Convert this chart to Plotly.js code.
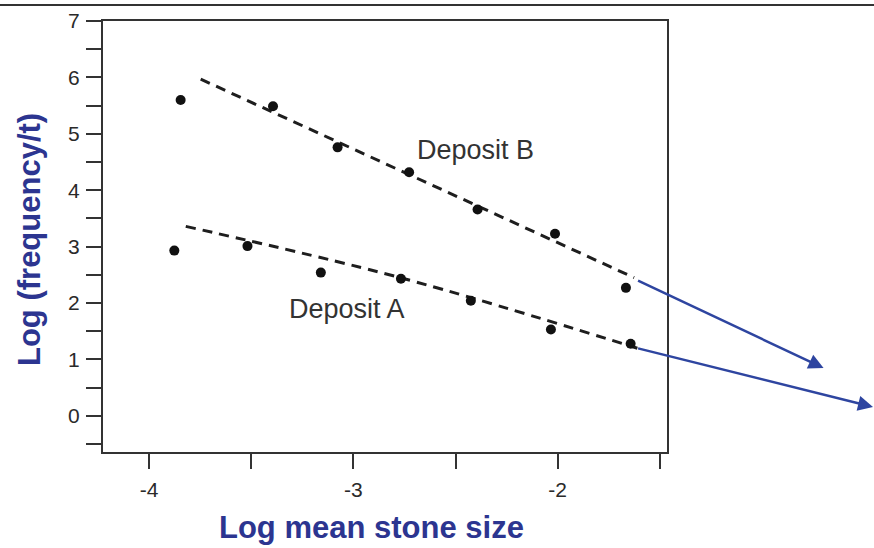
<!DOCTYPE html>
<html>
<head>
<meta charset="utf-8">
<script src="https://cdn.plot.ly/plotly-3.0.1.min.js"></script>
<style>html,body{margin:0;padding:0;background:#fff;}#chart{width:874px;height:548px;}</style>
</head>
<body>
<div id="chart"></div>
<script>
// Data
const depositB_x = [-3.845, -3.393, -3.077, -2.727, -2.392, -2.013, -1.666];
const depositB_y = [5.60, 5.49, 4.76, 4.32, 3.66, 3.23, 2.27];
const depositA_x = [-3.876, -3.518, -3.159, -2.767, -2.425, -2.033, -1.643];
const depositA_y = [2.93, 3.01, 2.54, 2.43, 2.04, 1.53, 1.28];
const fitB_x = [-3.747, -1.626];
const fitB_y = [5.97, 2.45];
const fitA_x = [-3.82, -2.77, -1.61];
const fitA_y = [3.36, 2.45, 1.20];
const xTickVals = [-4, -3.5, -3, -2.5, -2, -1.5];
const xTickText = ['-4', '', '-3', '', '-2', ''];
const yTickVals = [-0.5, 0, 0.5, 1, 1.5, 2, 2.5, 3, 3.5, 4, 4.5, 5, 5.5, 6, 6.5, 7];
const yTickText = ['', '0', '', '1', '', '2', '', '3', '', '4', '', '5', '', '6', '', '7'];
const labelB = {text: 'Deposit B', x: -2.403, y: 4.71};
const labelA = {text: 'Deposit A', x: -3.032, y: 1.90};
const xTitle = 'Log mean stone size';
const yTitle = 'Log (frequency/t)';

const navy = '#2c3590';
const ink = '#1e1e1e';
const fam = 'Liberation Sans, Arial, sans-serif';

const traces = [
  {x: fitB_x, y: fitB_y, mode: 'lines', line: {color: ink, width: 3, dash: '10px,7px'}, hoverinfo: 'skip'},
  {x: fitA_x, y: fitA_y, mode: 'lines', line: {color: ink, width: 3, dash: '10px,7px', shape: 'spline'}, hoverinfo: 'skip'},
  {x: depositB_x, y: depositB_y, mode: 'markers', marker: {color: '#111', size: 10}},
  {x: depositA_x, y: depositA_y, mode: 'markers', marker: {color: '#111', size: 10}}
];

const layout = {
  width: 874, height: 548,
  margin: {l: 103, r: 207, t: 21, b: 96},
  paper_bgcolor: '#fff', plot_bgcolor: '#fff',
  showlegend: false,
  font: {family: fam, color: '#2a2a2a', size: 21},
  xaxis: {
    range: [-4.225, -1.465], showgrid: false, zeroline: false,
    showline: true, mirror: true, linecolor: '#333', linewidth: 2,
    tickmode: 'array', tickvals: xTickVals, ticktext: xTickText,
    ticks: 'outside', ticklen: 15, tickwidth: 2, tickcolor: '#333',
    ticklabelstandoff: 3,
    tickfont: {size: 21, color: '#2a2a2a', family: fam}
  },
  yaxis: {
    range: [-0.64, 7.0], showgrid: false, zeroline: false,
    showline: true, mirror: true, linecolor: '#333', linewidth: 2,
    tickmode: 'array', tickvals: yTickVals, ticktext: yTickText,
    ticks: 'outside', ticklen: 15, tickwidth: 2, tickcolor: '#333',
    ticklabelstandoff: 2,
    tickfont: {size: 21, color: '#2a2a2a', family: fam}
  },
  shapes: [
    {type: 'line', xref: 'paper', yref: 'paper', x0: -0.2, x1: 1.4, y0: 1.037, y1: 1.037, line: {color: '#333', width: 2}}
  ],
  annotations: [
    {xref: 'paper', yref: 'paper', x: (371 - 103) / 564, y: (452 - 527) / 431, text: xTitle, showarrow: false,
     xanchor: 'center', yanchor: 'middle', font: {size: 31, color: navy, family: fam, weight: 'bold'}},
    {xref: 'paper', yref: 'paper', x: (30 - 103) / 564, y: (452 - 240) / 431, text: yTitle, showarrow: false, textangle: -90,
     xanchor: 'center', yanchor: 'middle', font: {size: 31, color: navy, family: fam, weight: 'bold'}},
    {x: labelB.x, y: labelB.y, text: labelB.text, showarrow: false, font: {size: 27, color: '#333', family: fam}},
    {x: labelA.x, y: labelA.y, text: labelA.text, showarrow: false, font: {size: 27, color: '#333', family: fam}},
    {xref: 'paper', yref: 'paper', x: 1.2776, y: 0.1949, ax: -187, ay: -88, axref: 'pixel', ayref: 'pixel',
     text: '', showarrow: true, arrowhead: 2, arrowsize: 1.2, arrowwidth: 2.5, arrowcolor: '#2e45a0'},
    {xref: 'paper', yref: 'paper', x: 1.3663, y: 0.1044, ax: -237, ay: -59, axref: 'pixel', ayref: 'pixel',
     text: '', showarrow: true, arrowhead: 2, arrowsize: 1.2, arrowwidth: 2.5, arrowcolor: '#2e45a0'}
  ]
};

Plotly.newPlot('chart', traces, layout, {staticPlot: true, displayModeBar: false});
</script>
</body>
</html>
